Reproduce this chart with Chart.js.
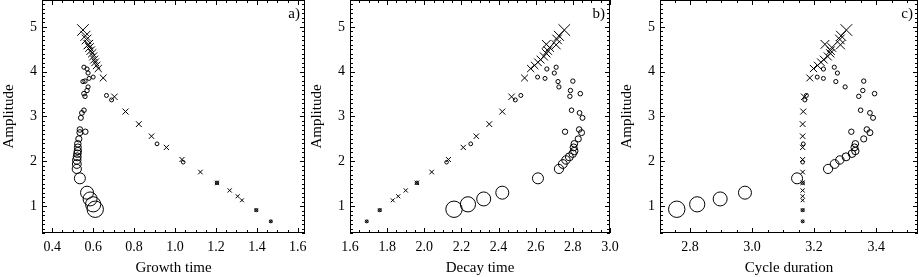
<!DOCTYPE html>
<html>
<head>
<meta charset="utf-8">
<script src="https://cdn.jsdelivr.net/npm/chart.js@4.4.1/dist/chart.umd.min.js"></script>
<style>
  html, body { margin: 0; padding: 0; background: #fff; }
  #wrap { position: relative; width: 919px; height: 277px; }
  #wrap canvas { position: absolute; left: 0; top: 0; }
</style>
</head>
<body>
<div id="wrap">
  <canvas id="panelA" width="919" height="277"></canvas>
  <canvas id="panelB" width="919" height="277"></canvas>
  <canvas id="panelC" width="919" height="277"></canvas>
</div>
<script>
// crosses branch
const amplitudeX = [0.66, 0.91, 1.13, 1.22, 1.35, 1.52, 1.76, 2.04, 2.31, 2.56, 2.83, 3.11, 3.44, 3.86,
  4.07, 4.14, 4.21, 4.27, 4.34, 4.41, 4.47, 4.54, 4.61, 4.60, 4.72, 4.80, 4.93];
const growthX = [1.468, 1.397, 1.327, 1.306, 1.267, 1.205, 1.124, 1.034, 0.958, 0.885, 0.823, 0.758, 0.704, 0.649,
  0.625, 0.617, 0.61, 0.605, 0.60, 0.595, 0.588, 0.582, 0.578, 0.575, 0.568, 0.562, 0.55];
const decayX = [1.69, 1.76, 1.83, 1.86, 1.90, 1.96, 2.04, 2.13, 2.21, 2.28, 2.35, 2.42, 2.47, 2.54,
  2.573, 2.594, 2.612, 2.626, 2.644, 2.657, 2.665, 2.675, 2.657, 2.71, 2.715, 2.725, 2.754];
const cycleX = [3.163, 3.163, 3.163, 3.163, 3.163, 3.163, 3.163, 3.163, 3.163, 3.163, 3.163, 3.165, 3.168, 3.186,
  3.198, 3.211, 3.222, 3.231, 3.244, 3.252, 3.253, 3.257, 3.235, 3.285, 3.283, 3.287, 3.304];

// circles branch
const amplitudeO = [0.66, 0.91, 1.52, 1.98, 2.39, 3.37, 3.47, 3.88, 3.85, 4.06, 3.97, 4.10, 3.78, 3.66,
  3.79, 3.58, 3.45, 3.14, 3.51, 3.08, 2.97, 2.66, 2.71, 2.64, 2.50, 2.39, 2.31, 2.23, 2.17, 2.10,
  2.03, 1.94, 1.83, 1.62, 1.30, 1.16, 1.04, 0.93];
const growthO = [1.468, 1.397, 1.205, 1.04, 0.912, 0.69, 0.665, 0.60, 0.58, 0.57, 0.575, 0.555, 0.55, 0.575,
  0.56, 0.57, 0.56, 0.555, 0.555, 0.545, 0.54, 0.562, 0.535, 0.535, 0.53, 0.525, 0.525, 0.525, 0.523, 0.522,
  0.52, 0.52, 0.52, 0.535, 0.57, 0.585, 0.60, 0.61];
const decayO = [1.69, 1.76, 1.96, 2.12, 2.25, 2.49, 2.52, 2.61, 2.65, 2.66, 2.70, 2.71, 2.72, 2.725,
  2.80, 2.787, 2.784, 2.793, 2.84, 2.836, 2.852, 2.758, 2.834, 2.847, 2.829, 2.808, 2.804, 2.808, 2.799, 2.781,
  2.763, 2.746, 2.725, 2.612, 2.42, 2.32, 2.235, 2.16];
const cycleO = [3.163, 3.163, 3.163, 3.163, 3.165, 3.17, 3.175, 3.21, 3.23, 3.23, 3.275, 3.265, 3.27, 3.30,
  3.36, 3.357, 3.344, 3.35, 3.395, 3.38, 3.39, 3.32, 3.37, 3.38, 3.36, 3.333, 3.33, 3.333, 3.322, 3.303,
  3.283, 3.266, 3.245, 3.145, 2.977, 2.897, 2.823, 2.757];

const amplitudeTicks = [1, 2, 3, 4, 5];
const growthTicks = [0.4, 0.6, 0.8, 1.0, 1.2, 1.4, 1.6];
const decayTicks = [1.6, 1.8, 2.0, 2.2, 2.4, 2.6, 2.8, 3.0];
const cycleTicks = [2.8, 3.0, 3.2, 3.4];

// marker sizes (half width of crosses, circle radius), px
const crossSize = [1.5, 1.7, 1.9, 2.0, 2.1, 2.2, 2.3, 2.5, 2.6, 2.7, 2.9, 3.0, 3.2, 3.4,
  3.6, 3.7, 3.8, 3.9, 4.0, 4.1, 4.2, 4.3, 4.4, 4.5, 4.8, 5.0, 5.8];
const circleSize = [1.5, 1.6, 1.7, 1.8, 1.9, 2.0, 2.0, 2.0, 2.0, 2.1, 2.1, 2.1, 2.1, 2.1,
  2.2, 2.2, 2.2, 2.3, 2.3, 2.4, 2.5, 2.7, 2.8, 3.0, 3.1, 3.3, 3.5, 3.7, 3.8, 4.0,
  4.2, 4.4, 4.6, 5.5, 6.5, 7.0, 7.6, 8.2];

const SERIF = '"Liberation Serif", "Times New Roman", serif';

// frame + inward major/minor ticks on all four sides, panel tag
const frameTicks = {
  id: "frameTicks",
  afterDraw(chart, args, opts) {
    const { ctx, chartArea, scales } = chart;
    const { left, right, top, bottom } = chartArea;
    const x = scales.x, y = scales.y;
    ctx.save();
    ctx.strokeStyle = "#000";
    ctx.lineWidth = 1;
    ctx.strokeRect(left + 0.5, top + 0.5, right - left - 1, bottom - top - 1);
    ctx.beginPath();
    const k0 = Math.ceil(x.min / 0.05 - 1e-6);
    for (let k = k0; k * 0.05 <= x.max + 1e-6; k++) {
      const len = k % 4 === 0 ? 5 : 3;
      const px = Math.round(x.getPixelForValue(k * 0.05)) + 0.5;
      ctx.moveTo(px, bottom); ctx.lineTo(px, bottom - len);
      ctx.moveTo(px, top); ctx.lineTo(px, top + len);
    }
    const j0 = Math.ceil(y.min / 0.1 - 1e-6);
    for (let j = j0; j * 0.1 <= y.max + 1e-6; j++) {
      const len = j % 10 === 0 ? 5 : 3;
      const py = Math.round(y.getPixelForValue(j * 0.1)) + 0.5;
      ctx.moveTo(left, py); ctx.lineTo(left + len, py);
      ctx.moveTo(right, py); ctx.lineTo(right - len, py);
    }
    ctx.stroke();
    ctx.fillStyle = "#000";
    ctx.font = "15px " + SERIF;
    ctx.textAlign = "right";
    ctx.textBaseline = "top";
    ctx.fillText(opts.tag, right - 5, top + 7);
    ctx.restore();
  },
};

function makePanel(canvasId, xCross, xCircle, xMin, xMax, xTicks, xTitle, tag, frameLeft, frameRight) {
  const cross = amplitudeX.map((a, i) => ({ x: xCross[i], y: a }));
  const circle = amplitudeO.map((a, i) => ({ x: xCircle[i], y: a }));
  new Chart(document.getElementById(canvasId), {
    type: "scatter",
    data: {
      datasets: [
        {
          data: circle,
          pointStyle: "circle",
          pointRadius: circleSize,
          borderColor: "#000",
          backgroundColor: "rgba(0,0,0,0)",
          borderWidth: 1,
        },
        {
          data: cross,
          pointStyle: "crossRot",
          pointRadius: crossSize.map((s) => s / Math.SQRT1_2),
          borderColor: "#000",
          backgroundColor: "rgba(0,0,0,0)",
          borderWidth: 1,
        },
      ],
    },
    options: {
      responsive: false,
      animation: false,
      events: [],
      layout: {
        autoPadding: false,
        padding: { left: frameLeft - 42, right: 919 - frameRight, top: 0, bottom: 0 },
      },
      plugins: {
        legend: { display: false },
        tooltip: { enabled: false },
        frameTicks: { tag: tag },
      },
      scales: {
        x: {
          type: "linear",
          min: xMin,
          max: xMax,
          grid: { display: false, drawTicks: false },
          border: { display: false },
          afterBuildTicks: (s) => { s.ticks = xTicks.map((v) => ({ value: v })); },
          afterFit: (s) => {
            s.height = 44;
            s.paddingLeft = 0;
            s.paddingRight = 0;
          },
          ticks: {
            color: "#000",
            font: { family: SERIF, size: 14 },
            padding: 6,
            maxRotation: 0,
            autoSkip: false,
            callback: (v) => Number(v).toFixed(1),
          },
          title: {
            display: true,
            text: xTitle,
            color: "#000",
            font: { family: SERIF, size: 15 },
            padding: { top: 0, bottom: 0 },
          },
        },
        y: {
          type: "linear",
          min: 0.4,
          max: 5.6,
          grid: { display: false, drawTicks: false },
          border: { display: false },
          afterBuildTicks: (s) => { s.ticks = amplitudeTicks.map((v) => ({ value: v })); },
          afterFit: (s) => {
            s.width = 42;
            s.paddingTop = 0;
            s.paddingBottom = 0;
          },
          ticks: {
            color: "#000",
            font: { family: SERIF, size: 14 },
            padding: 5,
            autoSkip: false,
            callback: (v) => String(v),
          },
          title: {
            display: true,
            text: "Amplitude",
            color: "#000",
            font: { family: SERIF, size: 15 },
            padding: { top: 0, bottom: 0 },
          },
        },
      },
    },
    plugins: [frameTicks],
  });
}

makePanel("panelA", growthX, growthO, 0.35, 1.635, growthTicks, "Growth time", "a)", 42, 305);
makePanel("panelB", decayX, decayO, 1.6, 3.0, decayTicks, "Decay time", "b)", 350, 610);
makePanel("panelC", cycleX, cycleO, 2.703, 3.535, cycleTicks, "Cycle duration", "c)", 660, 918);
</script>
</body>
</html>
